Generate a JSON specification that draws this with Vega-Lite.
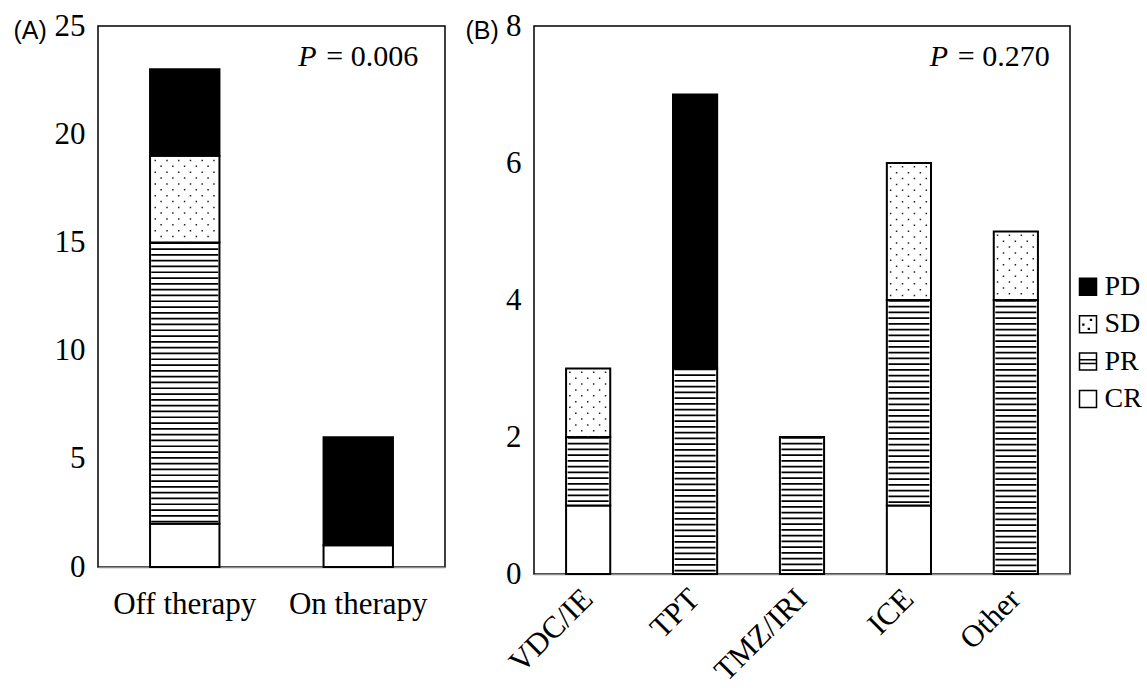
{
 "$schema": "https://vega.github.io/schema/vega-lite/v6.json",
 "padding": {"left": 12, "top": 9, "right": 0, "bottom": 0},
 "background": "white",
 "config": {
  "font": "Liberation Serif",
  "view": {"stroke": "black", "strokeWidth": 1.5},
  "axis": {"grid": false, "ticks": false, "labelFont": "Liberation Serif", "labelFontSize": 31, "labelColor": "black", "titleFont": "Liberation Sans", "titleFontSize": 24, "titleFontWeight": "normal", "titleColor": "black"},
  "axisY": {"domain": false, "labelPadding": 13},
  "axisX": {"domain": true, "domainColor": "#8c8c8c", "domainWidth": 1.5}
 },
 "datasets": {
  "bars": [
   {"panel": "A", "group": "Off therapy", "status": "CR", "count": 2},
   {"panel": "A", "group": "Off therapy", "status": "PR", "count": 13},
   {"panel": "A", "group": "Off therapy", "status": "SD", "count": 4},
   {"panel": "A", "group": "Off therapy", "status": "PD", "count": 4},
   {"panel": "A", "group": "On therapy", "status": "CR", "count": 1},
   {"panel": "A", "group": "On therapy", "status": "PD", "count": 5},
   {"panel": "B", "group": "VDC/IE", "status": "CR", "count": 1},
   {"panel": "B", "group": "VDC/IE", "status": "PR", "count": 1},
   {"panel": "B", "group": "VDC/IE", "status": "SD", "count": 1},
   {"panel": "B", "group": "TPT", "status": "PR", "count": 3},
   {"panel": "B", "group": "TPT", "status": "PD", "count": 4},
   {"panel": "B", "group": "TMZ/IRI", "status": "PR", "count": 2},
   {"panel": "B", "group": "ICE", "status": "CR", "count": 1},
   {"panel": "B", "group": "ICE", "status": "PR", "count": 3},
   {"panel": "B", "group": "ICE", "status": "SD", "count": 2},
   {"panel": "B", "group": "Other", "status": "PR", "count": 4},
   {"panel": "B", "group": "Other", "status": "SD", "count": 1}
  ]
 },
 "resolve": {"scale": {"x": "independent", "y": "independent"}},
 "spacing": 5.5,
 "hconcat": [
  {
   "spacing": 18,
   "resolve": {"scale": {"x": "independent", "y": "independent"}},
   "hconcat": [
    {
     "width": 347, "height": 541,
     "layer": [
      {
       "data": {"name": "bars"},
       "transform": [{"filter": "datum.panel === 'A'"}, {"stack": "count", "groupby": ["group"], "as": ["y0", "y1"]}],
       "encoding": {
        "x": {"field": "group", "type": "nominal", "scale": {"domain": ["Off therapy", "On therapy"], "paddingInner": 0.6, "paddingOuter": 0.3}, "axis": {"title": null, "labelAngle": 0, "labelPadding": 22}},
        "y": {"field": "y1", "type": "quantitative", "scale": {"domain": [0, 25], "nice": false}, "axis": {"values": [0, 5, 10, 15, 20, 25], "format": "d", "title": "(A)", "titleFont": "Liberation Sans", "titleFontSize": 25, "titleAngle": 0, "titleAlign": "left", "titleBaseline": "alphabetic", "titleX": -85, "titleY": 12.7}},
        "y2": {"field": "y0"}
       },
       "layer": [
        {"mark": {"type": "bar", "stroke": "black", "strokeWidth": 2}, "encoding": {"fill": {"condition": {"test": "datum.status === 'PD'", "value": "black"}, "value": "white"}}},
        {"transform": [{"filter": "datum.status === 'PR'"}], "mark": {"type": "rule", "stroke": "black", "strokeWidth": 67, "strokeDash": [1.7, 4.1]}},
        {"transform": [{"filter": "datum.status === 'SD'"}], "mark": {"type": "rule", "stroke": "#222", "strokeWidth": 1.5, "strokeDash": [1.5, 10.2], "strokeDashOffset": 7.7, "xOffset": -29.5}},
        {"transform": [{"filter": "datum.status === 'SD'"}], "mark": {"type": "rule", "stroke": "#222", "strokeWidth": 1.5, "strokeDash": [1.5, 10.2], "strokeDashOffset": 2.0, "xOffset": -23.63}},
        {"transform": [{"filter": "datum.status === 'SD'"}], "mark": {"type": "rule", "stroke": "#222", "strokeWidth": 1.5, "strokeDash": [1.5, 10.2], "strokeDashOffset": 7.7, "xOffset": -17.76}},
        {"transform": [{"filter": "datum.status === 'SD'"}], "mark": {"type": "rule", "stroke": "#222", "strokeWidth": 1.5, "strokeDash": [1.5, 10.2], "strokeDashOffset": 2.0, "xOffset": -11.89}},
        {"transform": [{"filter": "datum.status === 'SD'"}], "mark": {"type": "rule", "stroke": "#222", "strokeWidth": 1.5, "strokeDash": [1.5, 10.2], "strokeDashOffset": 7.7, "xOffset": -6.02}},
        {"transform": [{"filter": "datum.status === 'SD'"}], "mark": {"type": "rule", "stroke": "#222", "strokeWidth": 1.5, "strokeDash": [1.5, 10.2], "strokeDashOffset": 2.0, "xOffset": -0.15}},
        {"transform": [{"filter": "datum.status === 'SD'"}], "mark": {"type": "rule", "stroke": "#222", "strokeWidth": 1.5, "strokeDash": [1.5, 10.2], "strokeDashOffset": 7.7, "xOffset": 5.72}},
        {"transform": [{"filter": "datum.status === 'SD'"}], "mark": {"type": "rule", "stroke": "#222", "strokeWidth": 1.5, "strokeDash": [1.5, 10.2], "strokeDashOffset": 2.0, "xOffset": 11.59}},
        {"transform": [{"filter": "datum.status === 'SD'"}], "mark": {"type": "rule", "stroke": "#222", "strokeWidth": 1.5, "strokeDash": [1.5, 10.2], "strokeDashOffset": 7.7, "xOffset": 17.46}},
        {"transform": [{"filter": "datum.status === 'SD'"}], "mark": {"type": "rule", "stroke": "#222", "strokeWidth": 1.5, "strokeDash": [1.5, 10.2], "strokeDashOffset": 2.0, "xOffset": 23.33}},
        {"transform": [{"filter": "datum.status === 'SD'"}], "mark": {"type": "rule", "stroke": "#222", "strokeWidth": 1.5, "strokeDash": [1.5, 10.2], "strokeDashOffset": 7.7, "xOffset": 29.2}}
       ]
      },
      {
       "data": {"values": [{}]},
       "mark": {"type": "text", "text": "P", "font": "Liberation Serif", "fontStyle": "italic", "fontSize": 30, "align": "left", "baseline": "alphabetic", "dx": -60},
       "encoding": {"x": {"datum": "On therapy"}, "y": {"datum": 23.15}}
      },
      {
       "data": {"values": [{}]},
       "mark": {"type": "text", "text": "= 0.006", "font": "Liberation Serif", "fontSize": 30, "align": "left", "baseline": "alphabetic", "dx": -32},
       "encoding": {"x": {"datum": "On therapy"}, "y": {"datum": 23.15}}
      }
     ]
    },
    {
     "width": 536, "height": 548,
     "layer": [
      {
       "data": {"name": "bars"},
       "transform": [{"filter": "datum.panel === 'B'"}, {"stack": "count", "groupby": ["group"], "as": ["y0", "y1"]}],
       "encoding": {
        "x": {"field": "group", "type": "nominal", "scale": {"domain": ["VDC/IE", "TPT", "TMZ/IRI", "ICE", "Other"], "paddingInner": 0.587, "paddingOuter": 0.3}, "axis": {"title": null, "labelAngle": -45, "labelAlign": "right", "labelBaseline": "middle", "labelPadding": 20}},
        "y": {"field": "y1", "type": "quantitative", "scale": {"domain": [0, 8], "nice": false}, "axis": {"values": [0, 2, 4, 6, 8], "format": "d", "title": "(B)", "titleFont": "Liberation Sans", "titleFontSize": 25, "titleAngle": 0, "titleAlign": "left", "titleBaseline": "alphabetic", "titleX": -69, "titleY": 12.7}},
        "y2": {"field": "y0"}
       },
       "layer": [
        {"mark": {"type": "bar", "stroke": "black", "strokeWidth": 2}, "encoding": {"fill": {"condition": {"test": "datum.status === 'PD'", "value": "black"}, "value": "white"}}},
        {"transform": [{"filter": "datum.status === 'PR'"}], "mark": {"type": "rule", "stroke": "black", "strokeWidth": 41, "strokeDash": [1.7, 4.05]}},
        {"transform": [{"filter": "datum.status === 'SD'"}], "mark": {"type": "rule", "stroke": "#222", "strokeWidth": 1.5, "strokeDash": [1.5, 10.2], "strokeDashOffset": 8.7, "xOffset": -18.3}},
        {"transform": [{"filter": "datum.status === 'SD'"}], "mark": {"type": "rule", "stroke": "#222", "strokeWidth": 1.5, "strokeDash": [1.5, 10.2], "strokeDashOffset": 2.7, "xOffset": -12.35}},
        {"transform": [{"filter": "datum.status === 'SD'"}], "mark": {"type": "rule", "stroke": "#222", "strokeWidth": 1.5, "strokeDash": [1.5, 10.2], "strokeDashOffset": 8.7, "xOffset": -6.4}},
        {"transform": [{"filter": "datum.status === 'SD'"}], "mark": {"type": "rule", "stroke": "#222", "strokeWidth": 1.5, "strokeDash": [1.5, 10.2], "strokeDashOffset": 2.7, "xOffset": -0.45}},
        {"transform": [{"filter": "datum.status === 'SD'"}], "mark": {"type": "rule", "stroke": "#222", "strokeWidth": 1.5, "strokeDash": [1.5, 10.2], "strokeDashOffset": 8.7, "xOffset": 5.5}},
        {"transform": [{"filter": "datum.status === 'SD'"}], "mark": {"type": "rule", "stroke": "#222", "strokeWidth": 1.5, "strokeDash": [1.5, 10.2], "strokeDashOffset": 2.7, "xOffset": 11.45}},
        {"transform": [{"filter": "datum.status === 'SD'"}], "mark": {"type": "rule", "stroke": "#222", "strokeWidth": 1.5, "strokeDash": [1.5, 10.2], "strokeDashOffset": 8.7, "xOffset": 17.4}}
       ]
      },
      {
       "data": {"values": [{}]},
       "mark": {"type": "text", "text": "P", "font": "Liberation Serif", "fontStyle": "italic", "fontSize": 30, "align": "left", "baseline": "alphabetic", "dx": -86},
       "encoding": {"x": {"datum": "Other"}, "y": {"datum": 7.42}}
      },
      {
       "data": {"values": [{}]},
       "mark": {"type": "text", "text": "= 0.270", "font": "Liberation Serif", "fontSize": 30, "align": "left", "baseline": "alphabetic", "dx": -58},
       "encoding": {"x": {"datum": "Other"}, "y": {"datum": 7.42}}
      }
     ]
    }
   ]
  },
  {
   "width": 1, "height": 548,
   "view": {"stroke": null},
   "data": {"name": "bars"},
   "transform": [{"aggregate": [{"op": "count", "as": "n"}], "groupby": ["status"]}],
   "encoding": {"y": {"field": "status", "type": "nominal", "scale": {"type": "point", "domain": ["PD", "SD", "PR", "CR"], "range": [260.7, 373], "padding": 0}, "axis": null}},
   "layer": [
    {
     "mark": {"type": "point", "filled": true, "stroke": "black", "strokeWidth": 1.5, "size": 289, "opacity": 1},
     "encoding": {
      "shape": {"field": "status", "type": "nominal", "scale": {"domain": ["PD", "SD", "PR", "CR"], "range": ["M-1,-1H1V1H-1Z", "M-1,-1H1V1H-1Z M0.3,-0.55h0.1v0.1h-0.1Z M-0.6,0h0.1v0.1h-0.1Z M0.05,0.5h0.1v0.1h-0.1Z", "M-1,-1H1V1H-1Z M-1,-0.22H1 M-1,0.22H1", "M-1,-1H1V1H-1Z"]}, "legend": null},
      "fill": {"field": "status", "type": "nominal", "scale": {"domain": ["PD", "SD", "PR", "CR"], "range": ["black", "white", "white", "white"]}, "legend": null}
     }
    },
    {
     "mark": {"type": "text", "align": "left", "baseline": "middle", "dx": 16.5, "fontSize": 28, "font": "Liberation Serif", "color": "black"},
     "encoding": {"text": {"field": "status"}}
    }
   ]
  }
 ]
}
